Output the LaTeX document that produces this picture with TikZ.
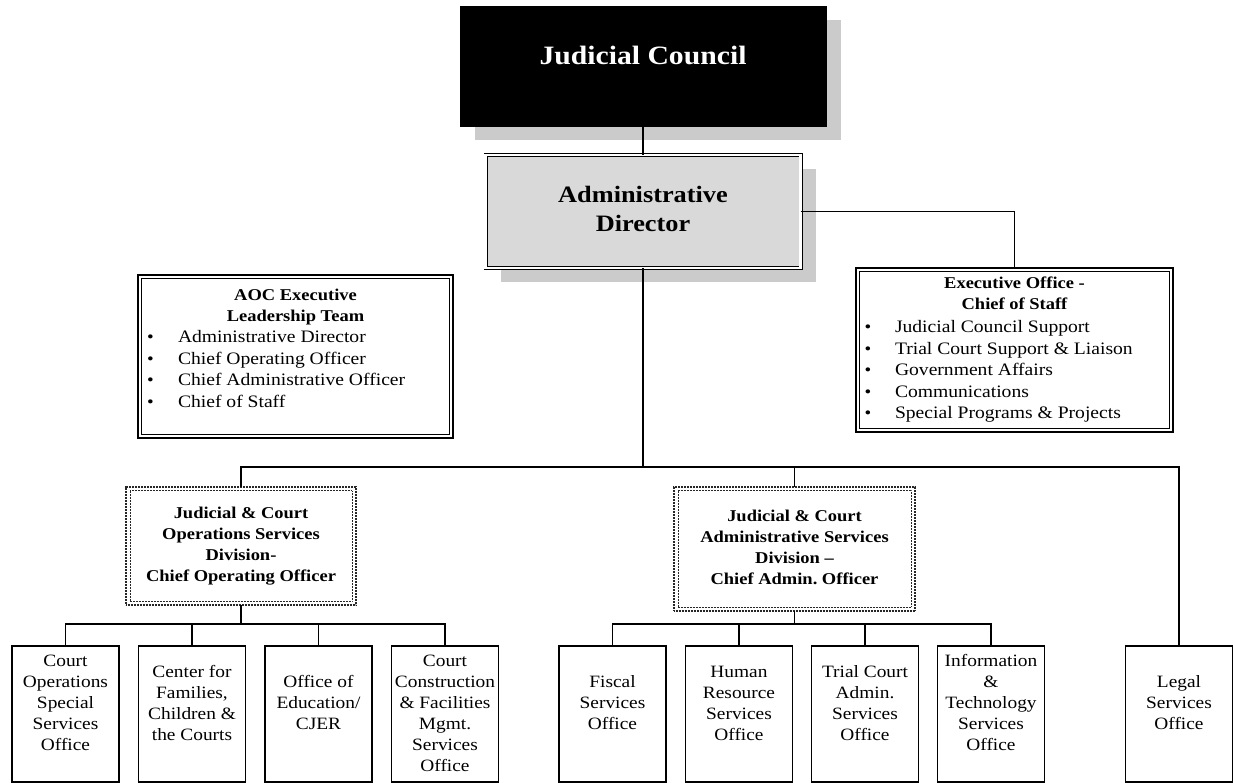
\documentclass[tikz,border=0pt]{standalone}
\usepackage{fontspec}
\setmainfont[FakeStretch=1.12]{Liberation Serif}
\usetikzlibrary{shadows}
\definecolor{shadowgray}{HTML}{CBCBCB}
\definecolor{adgray}{HTML}{D9D9D9}
\newcommand{\bul}{{\fontsize{17}{17}\selectfont\textbullet}}
\newcommand{\stk}[1]{\begin{tabular}{@{}c@{}}#1\end{tabular}}
\frenchspacing
\begin{document}
\begin{tikzpicture}[x=1pt,y=-1pt,
  every node/.style={inner sep=0pt, outer sep=0pt},
  conn/.style={line width=1.5pt},
  jcbox/.style={fill=black, draw=black, minimum width=366pt, minimum height=120pt,
    general shadow={fill=shadowgray, shadow xshift=15pt, shadow yshift=-14pt}},
  jctext/.style={text=white, font=\fontsize{26.5}{32}\selectfont\bfseries},
  adbox/.style={fill=adgray, draw=black, line width=0.9pt, double=white, double distance=2.2pt,
    minimum width=315pt, minimum height=113pt,
    general shadow={fill=shadowgray, shadow xshift=15pt, shadow yshift=-14pt},
    font=\fontsize{23.5}{29}\selectfont\bfseries},
  listbox/.style={draw=black, line width=2pt, fill=white},
  listinner/.style={line width=0.9pt},
  titletext/.style={font=\fontsize{16.5}{21}\selectfont\bfseries},
  listtext/.style={font=\fontsize{17.5}{21.5}\selectfont},
  divbox/.style={draw=black!85, line width=1.6pt, dash pattern=on 0.8pt off 0.7pt, fill=white,
    font=\fontsize{16.5}{21}\selectfont\bfseries},
  divinner/.style={draw=black!85, line width=1pt, dash pattern=on 0.8pt off 0.7pt},
  leaf/.style={draw=black, line width=1.4pt, minimum width=107pt, minimum height=136pt},
  leaftext/.style={anchor=north, font=\fontsize{17.3}{21}\selectfont}
]
\useasboundingbox (0,0) rectangle (1235,783);

% top levels
\node[jcbox] (jc) at (643,66) {};
\node[jctext, anchor=base] (jct) at (643,65) {Judicial Council};
\node[adbox] (ad) at (643,211.5) {\stk{Administrative\\Director}};

% side boxes
\node[listbox, minimum width=315pt, minimum height=163pt] (aoc) at (295.5,356.5) {};
\draw[listinner] ([shift={(3.5,3.5)}]aoc.north west) rectangle ([shift={(-3.5,-3.5)}]aoc.south east);
\node[titletext, anchor=north] (aoct) at (295.5,286) {\stk{AOC Executive\\Leadership Team}};
\node[listtext, anchor=north west] (aocl) at (147,327.5) {\begin{tabular}{@{}p{31pt}@{}l@{}}
\bul & Administrative Director\\
\bul & Chief Operating Officer\\
\bul & Chief Administrative Officer\\
\bul & Chief of Staff
\end{tabular}};

\node[listbox, minimum width=317pt, minimum height=164pt] (exec) at (1014.5,350) {};
\draw[listinner] ([shift={(3.5,3.5)}]exec.north west) rectangle ([shift={(-3.5,-3.5)}]exec.south east);
\node[titletext, anchor=north] (exect) at (1014.5,274) {\stk{Executive Office -\\Chief of Staff}};
\node[listtext, anchor=north west] (execl) at (864.5,317.5) {\begin{tabular}{@{}p{30.5pt}@{}l@{}}
\bul & Judicial Council Support\\
\bul & Trial Court Support \& Liaison\\
\bul & Government Affairs\\
\bul & Communications\\
\bul & Special Programs \& Projects
\end{tabular}};

% divisions
\node[divbox, minimum width=230pt, minimum height=118pt] (ldiv) at (241,546) {\stk{Judicial \& Court\\Operations Services\\Division-\\Chief Operating Officer}};
\draw[divinner] ([shift={(4,4)}]ldiv.north west) rectangle ([shift={(-4,-4)}]ldiv.south east);
\node[divbox, minimum width=241pt, minimum height=124pt] (rdiv) at (794.5,549) {\stk{Judicial \& Court\\Administrative Services\\Division --\\Chief Admin. Officer}};
\draw[divinner] ([shift={(4,4)}]rdiv.north west) rectangle ([shift={(-4,-4)}]rdiv.south east);

% leaf boxes
\node[leaf] (b1) at (65.5,714) {};
\node[leaf] (b2) at (192,714) {};
\node[leaf] (b3) at (318.5,714) {};
\node[leaf] (b4) at (445,714) {};
\node[leaf] (b5) at (612.5,714) {};
\node[leaf] (b6) at (739,714) {};
\node[leaf] (b7) at (865,714) {};
\node[leaf] (b8) at (991,714) {};
\node[leaf] (b9) at (1179,714) {};

\node[leaftext] (t1) at ([yshift=-5.8pt]b1.north) {\stk{Court\\Operations\\Special\\Services\\Office}};
\node[leaftext] (t2) at ([yshift=-16.8pt]b2.north) {\stk{Center for\\Families,\\Children \&\\the Courts}};
\node[leaftext] (t3) at ([yshift=-26.8pt]b3.north) {\stk{Office of\\Education/\\CJER}};
\node[leaftext] (t4) at ([yshift=-5.8pt]b4.north) {\stk{Court\\Construction\\\& Facilities\\Mgmt.\\Services\\Office}};
\node[leaftext] (t5) at ([yshift=-26.8pt]b5.north) {\stk{Fiscal\\Services\\Office}};
\node[leaftext] (t6) at ([yshift=-16.8pt]b6.north) {\stk{Human\\Resource\\Services\\Office}};
\node[leaftext] (t7) at ([yshift=-16.8pt]b7.north) {\stk{Trial Court\\Admin.\\Services\\Office}};
\node[leaftext] (t8) at ([yshift=-5.8pt]b8.north) {\stk{Information\\\&\\Technology\\Services\\Office}};
\node[leaftext] (t9) at ([yshift=-26.8pt]b9.north) {\stk{Legal\\Services\\Office}};

% connectors
\draw[conn] (jc.south) -- (ad.north);
\draw[conn] (ad.east) -| (exec.north);
\coordinate (mbus) at (643,467);
\draw[conn] (ad.south) -- (mbus);
\draw[conn] (ldiv.north) |- (mbus) -| (b9.north);
\draw[conn] (rdiv.north) -- (rdiv.north |- mbus);

\coordinate (lbus) at (241,624);
\draw[conn] (ldiv.south) -- (lbus);
\draw[conn] (b1.north) |- (lbus) -| (b4.north);
\draw[conn] (b2.north) -- (b2.north |- lbus);
\draw[conn] (b3.north) -- (b3.north |- lbus);

\coordinate (rbus) at (794.5,624);
\draw[conn] (rdiv.south) -- (rbus);
\draw[conn] (b5.north) |- (rbus) -| (b8.north);
\draw[conn] (b6.north) -- (b6.north |- rbus);
\draw[conn] (b7.north) -- (b7.north |- rbus);
\end{tikzpicture}
\end{document}
